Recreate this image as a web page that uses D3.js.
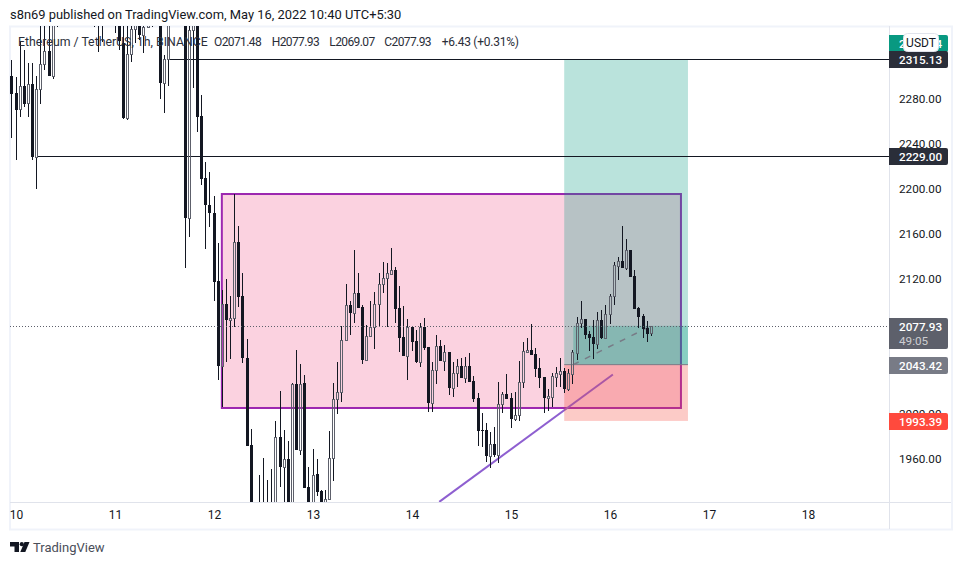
<!DOCTYPE html>
<html>
<head>
<meta charset="utf-8">
<title>ETHUSDT 1h</title>
<script src="https://d3js.org/d3.v7.min.js"></script>
<style>
    html, body { margin: 0; padding: 0; background: #fff; }
    text { font-family: Roboto, sans-serif; }
</style>
</head>
<body>
<svg id="chart" width="963" height="565" style="display:block"></svg>
<script>
// hourly candles, first one is 9 May 23:00, days counted from 10 May 00:00
var firstHour = -1
var opens = [2300,2284.9,2270.7,2291.2,2276.1,2292.9,2228,2288.5,2310.7,2322.3,2300,2350,2358,2372,2385,2378,2390,2382,2375,2368,
    2362,2358,2365,2360,2368,2362,2356,2329.4,2262.7,2319.6,2341.8,2352,2336.5,2343.6,2355,2350,2358,2293.8,2315.2,2352,
    2362,2370,2358,2173.8,2340.9,2352,2264.5,2209.4,2185.4,2178.3,2117.8,2042.3,2097.4,2083.2,2084.9,2152.5,2104.5,2049.4,1972.1,1905,
    1915,1905,1912,1908,1915,1979.2,1952.5,1959.6,1905,2026.3,1967.6,2027.2,1934.7,1908,1946.3,1931.2,1915,1924,1960.5,2012.9,
    2019.1,2065.4,2096.5,2089.4,2107.2,2094.7,2047.6,2068.9,2076.9,2097.4,2115.1,2120.5,2124,2127.6,2093.8,2068,2051.2,2076.9,2064.5,2045.8,
    2076.9,2059.2,2009.4,2038.7,2060,2046.7,2054.7,2022.7,2036,2042.3,2031.6,2042.3,2028.9,2013.8,1985.4,1985.4,1962.2,1972.9,1963.1,2008.5,
    2017.4,2013.8,1995.1,1998.7,2028,2054.7,2056.5,2052.9,2040.5,2032.5,2013.8,2014.7,2032.5,2035.1,2037.8,2021.8,2035.1,2053.8,2080.5,2084,
    2070.7,2068,2061.8,2083.2,2067.2,2088.5,2104.5,2131.2,2135.6,2129.4,2145.4,2122.2,2093.8,2086.7,2076,2071.48]
var highs = [2314.3,2299.2,2330.3,2323.2,2311.6,2311.6,2300,2352,2348,2350,2360,2372,2380,2392,2395,2398,2396,2390,2384,2376,
    2370,2372,2374,2376,2378,2372,2362,2348,2346,2350,2358,2358,2350,2360,2362,2366,2364,2319,2360,2370,
    2378,2380,2366,2350,2362,2360,2283.2,2223.6,2214.7,2193.4,2151.6,2109.8,2119.6,2104.5,2195.2,2166.7,2124.9,2066.3,1986.3,1920,
    1945.4,1960.5,1940.9,1950.7,1993.4,2020,1985.4,1975.6,2027,2056.5,2044,2034.3,1952.5,1968.5,1959.6,1932,1932,1984.5,2027.2,2045.8,
    2077.8,2115.1,2100,2145.4,2124.9,2096.5,2078.7,2100,2108,2124.9,2134.7,2133.8,2147.1,2130.3,2113.4,2095.6,2084,2076.9,2074.3,2080.5,
    2084.9,2059.2,2045.8,2069.8,2065.4,2060.9,2054.7,2045.8,2048.5,2049.4,2050.3,2053.8,2033.4,2018.3,2000.5,1991.6,1983.6,1988,2028,2019.1,
    2035.1,2018.3,2019.1,2046.7,2063.6,2067.2,2079.6,2058.3,2049.4,2032.5,2021.8,2036,2041.4,2049.4,2040.5,2039.6,2056.5,2085.8,2100,2084,
    2073.4,2083.2,2090.3,2092,2096.5,2106.3,2134.7,2139.2,2166.7,2155.1,2145.4,2127.6,2094.7,2088.5,2082.3,2077.93]
var lows = [2244.9,2225.4,2263.6,2272.5,2263.6,2225.4,2199.6,2275.2,2305,2300,2297.4,2343.6,2352,2365,2370,2372,2376,2368,2360,2352,
    2343.6,2321.4,2330.3,2350,2350,2338.3,2323.2,2261.8,2260.9,2312.5,2329.4,2332,2320.5,2343.6,2343.6,2346,2279.6,2267.2,2291.2,2348,
    2352,2350,2129.4,2156.9,2289.4,2250.3,2203.2,2146.3,2165.8,2100,2029.8,2005.8,2045.8,2048.5,2076.9,2094.7,2044.9,1971.2,1895,1895,
    1895,1895,1898,1900,1905,1934.7,1915,1895,1895,1967.6,1963.1,1933.8,1900,1900,1926.7,1905,1908,1924,1940,2000,
    2010.3,2065.4,2069.8,2080.5,2093.8,2044,2047.6,2068,2057.4,2077.8,2107.2,2076.9,2124,2080.5,2054.7,2051.2,2029.8,2055.6,2044.9,2041.4,
    2056.5,2001.4,2001.4,2026.3,2046.7,2037.8,2016.5,2014.7,2023.6,2031.6,2027.2,2028,2010.3,1971.2,1970.3,1956.9,1951.6,1961.4,1956,2000.5,
    2012.9,1987.1,1993.4,1993.4,2022.7,2054.7,2052,2032.5,2022.7,2000.5,2002.3,2005.8,2023.6,2023.6,2018.3,2020,2026.3,2047.6,2076,2066.3,
    2055.6,2048.5,2057.4,2066.3,2067.2,2079.6,2096.5,2118.7,2129.4,2127.6,2121.4,2092.9,2076,2067.2,2063.6,2069.07]
var closes = [2284,2269.8,2291.2,2275.2,2292.9,2228,2288.5,2310.7,2322.3,2300,2350,2358,2372,2385,2378,2390,2382,2375,2368,2362,
    2358,2365,2360,2368,2362,2356,2331.2,2262.7,2319.6,2341.8,2352,2336.5,2343.6,2355,2350,2358,2293.8,2315.2,2352,2362,
    2370,2358,2173.8,2340.9,2352,2263.6,2208.5,2185.4,2178.3,2116.9,2042.3,2097.4,2083.2,2084.9,2152.5,2103.6,2049.4,1971.2,1905,1915,
    1905,1912,1908,1915,1979.2,1952.5,1959.6,1905,2026.3,1967.6,2026.3,1933.8,1908,1945.4,1930.3,1915,1924,1960.5,2012.9,2019.1,
    2065.4,2096.5,2089.4,2107.2,2093.8,2047.6,2068.9,2076.9,2097.4,2115.1,2120.5,2124.9,2127.6,2092.9,2067.2,2051.2,2076.9,2063.6,2045.8,2076.9,
    2058.3,2009.4,2038.7,2060,2046.7,2054.7,2022.7,2036,2042.3,2031.6,2042.3,2028,2012.9,1984.5,1984.5,1962.2,1972.9,1963.1,2008.5,2017.4,
    2012.9,1995.1,1998.7,2028,2055.6,2056.5,2052,2039.6,2031.6,2013.8,2015.6,2033.4,2036,2037.8,2021.8,2036,2054.7,2080.5,2084,2069.8,
    2067.2,2061.8,2083.2,2067.2,2088.5,2104.5,2132,2135.6,2129.4,2145.4,2121.4,2092.9,2085.8,2075.1,2070.7,2077.93]

// 2080 and 2040 sit fully behind the price tags, so they are left out
var priceTicks = [2280, 2240, 2200, 2160, 2120, 2000, 1960]
var dayTicks = [0, 24, 48, 72, 96, 120, 144, 168, 192]
var dayLabels = ['10', '11', '12', '13', '14', '15', '16', '17', '18']

// drawings on the chart, as price and hour
var targetPrice = 2315.13
var supportPrice = 2229
var entryPrice = 2043.42
var stopPrice = 1993.39
var lastPrice = 2077.93
var boxTop = 2195.1, boxBottom = 2004.9, boxStart = 49.9, boxEnd = 161.2
var posStart = 132.9, posFill = 135.1, posEnd = 162.9
var targetLineStart = 37.3, supportLineStart = 5.1
var trendFrom = [102.6, 1921.4], trendTo = [144.7, 2034.7]

var pageTitle = 's8n69 published on TradingView.com, May 16, 2022 10:40 UTC+5:30'
var legendName = 'Ethereum / TetherUS, 1h, BINANCE'
var legendValues = ['O2071.48', 'H2077.93', 'L2069.07', 'C2077.93', '+6.43 (+0.31%)']

var plotLeft = 10, plotRight = 889, plotTop = 26, plotBottom = 502
var x = d3.scaleLinear().domain([0, 192]).range([16, 808])
var y = d3.scaleLinear().domain([2280, 1960]).range([98.5, 458.5])

var svg = d3.select('#chart')
var ink = '#131722'

// frame around the widget
svg.append('rect').attr('x', 10).attr('y', 26.5).attr('width', 942).attr('height', 503)
    .attr('fill', '#fff').attr('stroke', '#f0f3fa').attr('stroke-width', 2)

svg.append('defs').append('clipPath').attr('id', 'plotClip')
    .append('rect').attr('x', plotLeft).attr('y', plotTop)
    .attr('width', plotRight - plotLeft).attr('height', plotBottom - plotTop)
var plot = svg.append('g').attr('clip-path', 'url(#plotClip)')

// pink box and trend line go under the position
plot.append('rect')
    .attr('x', x(boxStart)).attr('y', y(boxTop))
    .attr('width', x(boxEnd) - x(boxStart)).attr('height', y(boxBottom) - y(boxTop))
    .attr('fill', 'rgba(233,30,99,0.2)').attr('stroke', '#9c27b0').attr('stroke-width', 2)
plot.append('line')
    .attr('x1', x(trendFrom[0])).attr('y1', y(trendFrom[1]))
    .attr('x2', x(trendTo[0])).attr('y2', y(trendTo[1]))
    .attr('stroke', '#8e5fd0').attr('stroke-width', 2)

// long position
var profit = 'rgba(8,153,129,0.28)', loss = 'rgba(244,67,54,0.28)'
plot.append('rect')
    .attr('x', x(posStart)).attr('y', y(targetPrice))
    .attr('width', x(posEnd) - x(posStart)).attr('height', y(entryPrice) - y(targetPrice))
    .attr('fill', profit)
plot.append('rect')
    .attr('x', x(posFill)).attr('y', y(lastPrice))
    .attr('width', x(posEnd) - x(posFill)).attr('height', y(entryPrice) - y(lastPrice))
    .attr('fill', profit)
plot.append('rect')
    .attr('x', x(posStart)).attr('y', y(entryPrice))
    .attr('width', x(posEnd) - x(posStart)).attr('height', y(stopPrice) - y(entryPrice))
    .attr('fill', loss)
plot.append('line')
    .attr('x1', x(posStart)).attr('x2', x(posEnd))
    .attr('y1', y(entryPrice)).attr('y2', y(entryPrice))
    .attr('stroke', '#787b86').attr('stroke-width', 1)
plot.append('line')
    .attr('x1', x(posFill)).attr('y1', y(entryPrice))
    .attr('x2', x(firstHour + opens.length - 1)).attr('y2', y(lastPrice))
    .attr('stroke', '#787b86').attr('stroke-width', 1.5).attr('stroke-dasharray', '6 7')

// horizontal levels
plot.append('line').attr('x1', x(targetLineStart)).attr('x2', plotRight)
    .attr('y1', Math.round(y(targetPrice)) + 0.5).attr('y2', Math.round(y(targetPrice)) + 0.5)
    .attr('stroke', ink)
plot.append('line').attr('x1', x(supportLineStart)).attr('x2', plotRight)
    .attr('y1', Math.round(y(supportPrice)) + 0.5).attr('y2', Math.round(y(supportPrice)) + 0.5)
    .attr('stroke', ink)

// candles
var candles = plot.selectAll('.candle')
    .data(opens)
    .enter()
    .append('g')
    .attr('class', 'candle')
    .attr('shape-rendering', 'crispEdges')
candles.each(function (open, i) {
    var g = d3.select(this)
    var close = closes[i]
    var up = close >= open
    var cx = Math.floor(x(firstHour + i))
    var bodyTop = Math.round(y(Math.max(open, close)))
    var bodyBottom = Math.round(y(Math.min(open, close)))
    var hi = Math.round(y(highs[i])), lo = Math.round(y(lows[i]))
    // wick, split in two so hollow bodies stay empty
    g.append('rect').attr('x', cx).attr('y', hi).attr('width', 1)
        .attr('height', Math.max(0, bodyTop - hi)).attr('fill', ink)
    g.append('rect').attr('x', cx).attr('y', bodyBottom).attr('width', 1)
        .attr('height', Math.max(0, lo - bodyBottom)).attr('fill', ink)
    if (up) {
        g.append('rect').attr('x', cx - 0.5).attr('y', bodyTop + 0.5)
            .attr('width', 2).attr('height', Math.max(1, bodyBottom - bodyTop))
            .attr('fill', 'none').attr('stroke', '#5d606b')
    } else {
        g.append('rect').attr('x', cx - 1).attr('y', bodyTop)
            .attr('width', 3).attr('height', Math.max(1, bodyBottom - bodyTop))
            .attr('fill', ink)
    }
})

// last price dotted line
svg.append('line').attr('x1', plotLeft).attr('x2', plotRight)
    .attr('y1', Math.round(y(lastPrice)) + 0.5).attr('y2', Math.round(y(lastPrice)) + 0.5)
    .attr('stroke', '#5d606b').attr('stroke-dasharray', '1 2')

// axes
svg.append('line').attr('x1', plotRight + 0.5).attr('x2', plotRight + 0.5).attr('y1', plotTop).attr('y2', 529)
    .attr('stroke', '#e0e3eb')
svg.append('line').attr('x1', plotLeft).attr('x2', 951).attr('y1', plotBottom + 0.5).attr('y2', plotBottom + 0.5)
    .attr('stroke', '#e0e3eb')

var yAxis = d3.axisRight(y).tickValues(priceTicks).tickSize(0).tickPadding(0).tickFormat(d3.format('.2f'))
var yG = svg.append('g').attr('transform', 'translate(899,0)').call(yAxis)
yG.select('.domain').remove()
yG.selectAll('text').attr('fill', ink).style('font-size', '11.7px').style('font-family', 'Roboto, sans-serif')

var xAxis = d3.axisBottom(x).tickValues(dayTicks).tickSize(0).tickPadding(0)
    .tickFormat(function (d, i) { return dayLabels[i] })
var xG = svg.append('g').attr('transform', 'translate(0,510)').call(xAxis)
xG.select('.domain').remove()
xG.selectAll('text').attr('fill', ink).style('font-size', '12px').style('font-family', 'Roboto, sans-serif')

// price tags on the right axis
function tag(price, label, fill, sub) {
    var h = sub ? 31 : 17
    var ty = Math.round(y(price)) - 8
    svg.append('path')
        .attr('d', 'M889,' + ty + 'h57a2,2 0 0 1 2,2v' + (h - 4) + 'a2,2 0 0 1 -2,2h-57z')
        .attr('fill', fill)
    svg.append('text').attr('x', 899).attr('y', ty + 13).attr('fill', '#fff')
        .style('font-size', '11.7px').style('font-weight', 500).text(label)
    if (sub) {
        svg.append('text').attr('x', 899).attr('y', ty + 27).attr('fill', 'rgba(255,255,255,0.7)')
            .style('font-size', '11.7px').text(sub)
    }
}
tag(y.invert(43), '2315.14', '#089981')
tag(targetPrice, d3.format('.2f')(targetPrice), '#2a2e39')
tag(supportPrice, d3.format('.2f')(supportPrice), '#2a2e39')
tag(lastPrice, d3.format('.2f')(lastPrice), '#5d606b', '49:05')
tag(entryPrice, d3.format('.2f')(entryPrice), '#787b86')
tag(stopPrice, d3.format('.2f')(stopPrice), '#ff4a3d')

// currency button
svg.append('rect').attr('x', 903.5).attr('y', 33.5).attr('width', 35).attr('height', 18).attr('rx', 4)
    .attr('fill', '#fff').attr('stroke', '#e0e3eb')
svg.append('text').attr('x', 921).attr('y', 47).attr('text-anchor', 'middle').attr('fill', ink)
    .style('font-size', '12px').text('USDT')

// titles
svg.append('text').attr('x', 10).attr('y', 19).attr('fill', ink)
    .style('font-size', '12.9px').text(pageTitle)
svg.append('text').attr('x', 18).attr('y', 46).attr('fill', '#2a2e39')
    .style('font-size', '12.3px').text(legendName)
var legendX = [214, 271.7, 329.3, 384.3, 441.7]
var legendSpacing = [-0.6, -0.6, -0.6, -0.6, -0.25]
svg.selectAll('.legendValue')
    .data(legendValues)
    .enter()
    .append('text')
    .attr('class', 'legendValue')
    .attr('x', function (d, i) { return legendX[i] })
    .attr('y', 46)
    .attr('fill', '#2a2e39')
    .style('font-size', '12px')
    .style('letter-spacing', function (d, i) { return legendSpacing[i] + 'px' })
    .text(function (d) { return d })

// logo and brand
var logo = svg.append('g').attr('fill', ink)
logo.append('path').attr('d', 'M10,542h9v10h-4.5v-5.5h-4.5z')
logo.append('circle').attr('cx', 21.8).attr('cy', 544.2).attr('r', 2.1)
logo.append('path').attr('d', 'M24.5,542h5l-4.2,10h-5z')
svg.append('text').attr('x', 33).attr('y', 552).attr('fill', '#4a4e59')
    .style('font-size', '13px').text('TradingView')
</script>
</body>
</html>
